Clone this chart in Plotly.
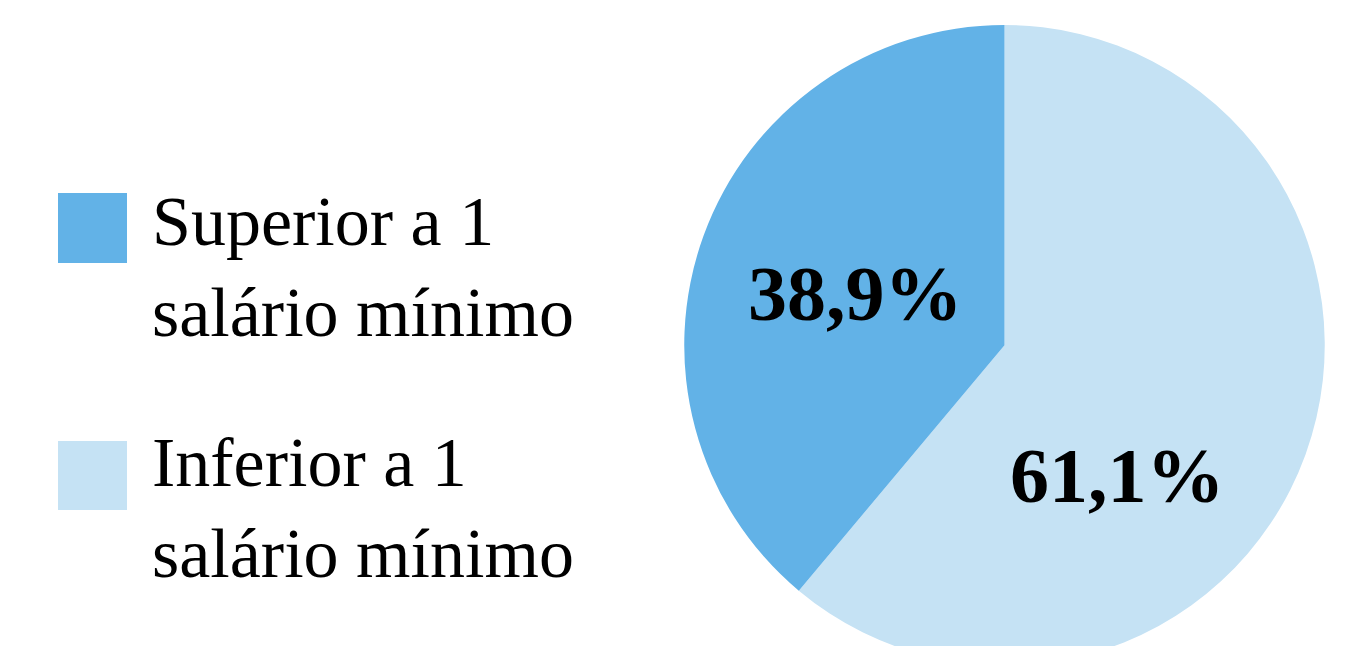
import plotly.graph_objects as go

# ---- data ----
categories = ["Superior a 1<br>salário mínimo", "Inferior a 1<br>salário mínimo"]
values = [38.9, 61.1]
colors = ["#62B2E7", "#C5E2F4"]

W, H = 1348, 700  # page is taller than the window so the pie runs off the bottom edge
FONT = "Liberation Serif, Times New Roman, serif"

def px_x(x):
    return x / W

def px_y(y):
    return 1 - y / H

fig = go.Figure()
fig.add_trace(go.Pie(
    labels=categories[::-1],
    values=values[::-1],
    marker=dict(colors=colors[::-1], line=dict(width=0)),
    sort=False,
    direction="clockwise",
    rotation=0,
    textinfo="none",
    hoverinfo="label+percent",
    showlegend=False,
    domain=dict(x=[px_x(684), px_x(1325)], y=[px_y(665.5), px_y(25)]),
))

# percentage labels computed from the values
total = sum(values)
pct_text = [f"{v / total * 100:.1f}%".replace(".", ",") for v in values]
label_pos = [(855, 293), (1117, 475)]
for txt, (x, y) in zip(pct_text, label_pos):
    fig.add_annotation(
        x=px_x(x), y=px_y(y), xref="paper", yref="paper",
        text=f"<b>{txt}</b>", showarrow=False,
        xanchor="center", yanchor="middle",
        font=dict(family=FONT, size=78, color="#000000"),
    )

# custom legend (large swatches)
legend_rows = [(193, 263, 267), (441, 510, 508)]
for (cat, col, (y0, y1, ty)) in zip(categories, colors, legend_rows):
    fig.add_shape(
        type="rect", xref="paper", yref="paper",
        x0=px_x(58), x1=px_x(127), y0=px_y(y1), y1=px_y(y0),
        fillcolor=col, line=dict(width=0),
    )
    fig.add_annotation(
        x=px_x(150), y=px_y(ty), xref="paper", yref="paper",
        text=cat, showarrow=False, align="left",
        xanchor="left", yanchor="middle",
        font=dict(family=FONT, size=70, color="#000000"),
    )

fig.update_layout(
    width=W, height=H,
    margin=dict(l=0, r=0, t=0, b=0),
    paper_bgcolor="#FFFFFF",
    plot_bgcolor="#FFFFFF",
    separators=",.",
)

fig.write_html(
    "out.html",
    config={"displayModeBar": False},
    post_script="document.body.style.margin='0';document.body.style.overflow='hidden';document.documentElement.style.overflow='hidden';",
)
